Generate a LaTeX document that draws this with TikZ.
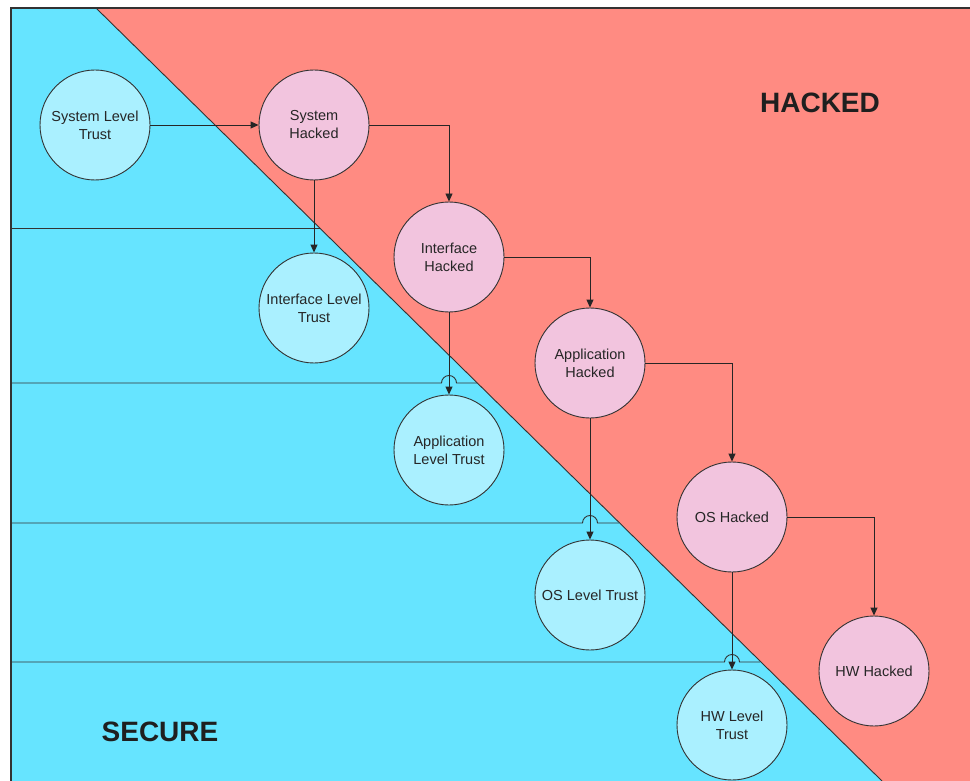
\documentclass[tikz,border=0pt]{standalone}
\usepackage{fontspec}
\setmainfont{Liberation Sans}
\usetikzlibrary{arrows.meta}
\definecolor{securebg}{RGB}{102,228,255}
\definecolor{hackedbg}{RGB}{255,139,130}
\definecolor{trustfill}{RGB}{170,240,255}
\definecolor{hackfill}{RGB}{242,196,222}
\definecolor{edgegray}{RGB}{50,50,50}
\tikzset{
  state/.style={circle, draw=edgegray, line width=0.9pt, minimum size=110pt,
    inner sep=0pt, align=center, text=black!85,
    font=\fontsize{14.5}{18}\selectfont},
  trust/.style={state, fill=trustfill},
  hacked/.style={state, fill=hackfill},
  arr/.style={draw=black!85, line width=0.9pt, -{Triangle[length=8pt,width=7pt]}},
  divider/.style={draw=black!80, line width=0.9pt},
  zonelabel/.style={font=\bfseries\fontsize{28}{32}\selectfont, text=black!88}
}
\begin{document}
\begin{tikzpicture}[x=1pt,y=-1pt]
\useasboundingbox (0,0) rectangle (970,781);

% zones
\fill[securebg] (11,8) -- (96,8) -- (882,781) -- (11,781) -- cycle;
\fill[hackedbg] (96,8) -- (970,8) -- (970,781) -- (882,781) -- cycle;
\draw[divider] (96,8) -- (882,781);
\draw[edgegray, line width=1.4pt] (11,781) -- (11,8) -- (970,8);

% level separators (with jumps over the vertical connectors)
\draw[divider] (11,228) -- (320,228);
\draw[divider] (11,383) -- (441.5,383) arc[start angle=180, end angle=0, radius=7.5pt] -- (477,383);
\draw[divider] (11,523) -- (582.5,523) arc[start angle=180, end angle=0, radius=7.5pt] -- (619,523);
\draw[divider] (11,662) -- (724.5,662) arc[start angle=180, end angle=0, radius=7.5pt] -- (760,662);

% zone labels
\node[zonelabel] (hackedlbl) at (820,103) {HACKED};
\node[zonelabel] (securelbl) at (160,732) {SECURE};

% states
\node[trust]  (slt) at (95,125)  {System Level\\Trust};
\node[hacked] (sh)  at (314,125) {System\\Hacked};
\node[hacked] (ih)  at (449,257) {Interface\\Hacked};
\node[trust]  (ilt) at (314,308) {Interface Level\\Trust};
\node[hacked] (ah)  at (590,363) {Application\\Hacked};
\node[trust]  (alt) at (449,450) {Application\\Level Trust};
\node[hacked] (oh)  at (732,517) {OS Hacked};
\node[trust]  (olt) at (590,595) {OS Level Trust};
\node[hacked] (hh)  at (874,671) {HW Hacked};
\node[trust]  (hlt) at (732,725) {HW Level\\Trust};

% transitions
\draw[arr] (slt) -- (sh);
\draw[arr] (sh.east) -| (ih.north);
\draw[arr] (sh.south) -- (ilt.north);
\draw[arr] (ih.east) -| (ah.north);
\draw[arr] (ih.south) -- (alt.north);
\draw[arr] (ah.east) -| (oh.north);
\draw[arr] (ah.south) -- (olt.north);
\draw[arr] (oh.east) -| (hh.north);
\draw[arr] (oh.south) -- (hlt.north);
\end{tikzpicture}
\end{document}
